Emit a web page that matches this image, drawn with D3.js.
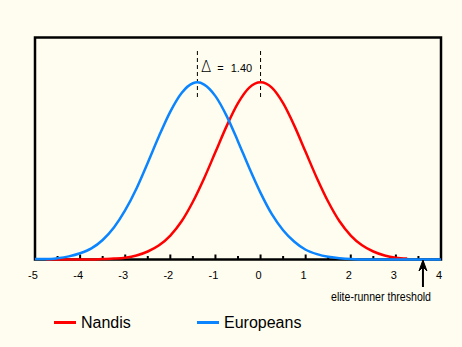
<!DOCTYPE html>
<html><head><meta charset="utf-8">
<script src="https://cdn.jsdelivr.net/npm/d3@7"></script>
<style>
html,body{margin:0;padding:0;background:#fffdf0;}
svg{display:block;}
text{font-family:"Liberation Sans",Arial,sans-serif;fill:#000;}
</style></head><body>
<script>
// ---- data ----
const seriesNames = ["Nandis", "Europeans"];
const seriesColors = ["#ff0000", "#0a84ff"];
const means = [0, -1.4];
const delta = "1.40";
const tickLabels = [-5, -4, -3, -2, -1, 0, 1, 2, 3, 4];
const thresholdX = 3.6;
const thresholdLabel = "elite-runner threshold";

const nandisX = [-4.75,-4.5,-4.25,-4,-3.75,-3.5,-3.25,-3,-2.75,-2.5,-2.25,-2,-1.75,-1.5,-1.25,-1,-0.75,-0.5,-0.25,0,0.25,0.5,0.75,1,1.25,1.5,1.75,2,2.25,2.5,2.75,3,3.25];
const nandisY = [0,0,0,0,0,0.001,0.002,0.004,0.009,0.018,0.032,0.054,0.086,0.130,0.183,0.242,0.301,0.352,0.387,0.399,0.387,0.352,0.301,0.242,0.183,0.130,0.086,0.054,0.032,0.018,0.009,0.004,0.002];
const europeansX = [-5,-4.75,-4.5,-4.25,-4,-3.75,-3.5,-3.25,-3,-2.75,-2.5,-2.25,-2,-1.75,-1.5,-1.4,-1.25,-1,-0.75,-0.5,-0.25,0,0.25,0.5,0.75,1,1.25,1.5,1.75,2,2.25,2.5,2.75,3,3.25,3.5,3.75,4];
const europeansY = [0.001,0.001,0.003,0.007,0.014,0.025,0.044,0.072,0.111,0.160,0.218,0.278,0.333,0.375,0.397,0.399,0.394,0.368,0.323,0.266,0.206,0.150,0.102,0.066,0.040,0.022,0.012,0.006,0.003,0.001,0,0,0,0,0,0,0,0];

// ---- layout ----
const W = 462, H = 347;
const svg = d3.select("body").append("svg").attr("width", W).attr("height", H);
svg.append("rect").attr("width", W).attr("height", H).attr("fill", "#fffdf0");

const x = d3.scaleLinear().domain([-5, 4]).range([35, 441]);
const y = d3.scaleLinear().domain([0, 0.5]).range([259.5, 37.5]);

// frame
svg.append("rect").attr("x", 35).attr("y", 37.5).attr("width", 406).attr("height", 222)
  .attr("fill", "none").attr("stroke", "#000").attr("stroke-width", 2.5);

// ticks (inside, upward)
const tickVals = d3.range(-5, 4.01, 0.5);
svg.append("g").selectAll("line").data(tickVals).join("line")
  .attr("x1", d => x(d)).attr("x2", d => x(d))
  .attr("y1", y(0)).attr("y2", d => y(0) - (Number.isInteger(d) ? 5 : 3.5))
  .attr("stroke", "#000").attr("stroke-width", 2);

// tick labels
svg.append("g").selectAll("text").data(tickLabels).join("text")
  .attr("x", d => x(d) - 2).attr("y", 279)
  .attr("text-anchor", "middle").attr("font-size", 11)
  .text(d => d);

// dashed mean lines
svg.append("g").selectAll("line").data(means).join("line")
  .attr("x1", d => x(d)).attr("x2", d => x(d))
  .attr("y1", 51).attr("y2", 100)
  .attr("stroke", "#000").attr("stroke-width", 1).attr("stroke-dasharray", "4,3");

// delta label
const dt = svg.append("text").attr("x", 201).attr("y", 72);
dt.append("tspan").attr("font-size", 15).attr("font-family", "'DejaVu Sans'").attr("font-weight", 200).text("Δ");
dt.append("tspan").attr("font-size", 11).attr("dx", 6).text("=");
dt.append("tspan").attr("font-size", 11).attr("dx", 7).text(delta);

// curves
const line = d3.line().x(d => x(d[0])).y(d => y(d[1])).curve(d3.curveMonotoneX);
const series = [d3.zip(nandisX, nandisY), d3.zip(europeansX, europeansY)];
svg.append("g").selectAll("path").data(series).join("path")
  .attr("d", line).attr("fill", "none")
  .attr("stroke", (d, i) => seriesColors[i]).attr("stroke-width", 2.5)
  .attr("stroke-linejoin", "round");

// threshold arrow
const ax = x(thresholdX);
svg.append("line").attr("x1", ax).attr("x2", ax).attr("y1", 262).attr("y2", 287)
  .attr("stroke", "#000").attr("stroke-width", 2);
svg.append("path")
  .attr("d", `M${ax},260 L${ax - 4},271 L${ax},267 L${ax + 4},271 Z`)
  .attr("fill", "#000").attr("stroke", "#000").attr("stroke-width", 1);
svg.append("text").attr("x", 381).attr("y", 301).attr("text-anchor", "middle")
  .attr("font-size", 12.5).attr("textLength", 100).attr("lengthAdjust", "spacingAndGlyphs")
  .text(thresholdLabel);

// legend
const legendX = [54, 197];
const lg = svg.append("g").selectAll("g").data(seriesNames).join("g");
lg.append("line").attr("x1", (d, i) => legendX[i]).attr("x2", (d, i) => legendX[i] + 22)
  .attr("y1", 322.5).attr("y2", 322.5)
  .attr("stroke", (d, i) => seriesColors[i]).attr("stroke-width", 3);
lg.append("text").attr("x", (d, i) => legendX[i] + 27).attr("y", 327.5)
  .attr("font-size", 16).text(d => d);
</script>
</body></html>
